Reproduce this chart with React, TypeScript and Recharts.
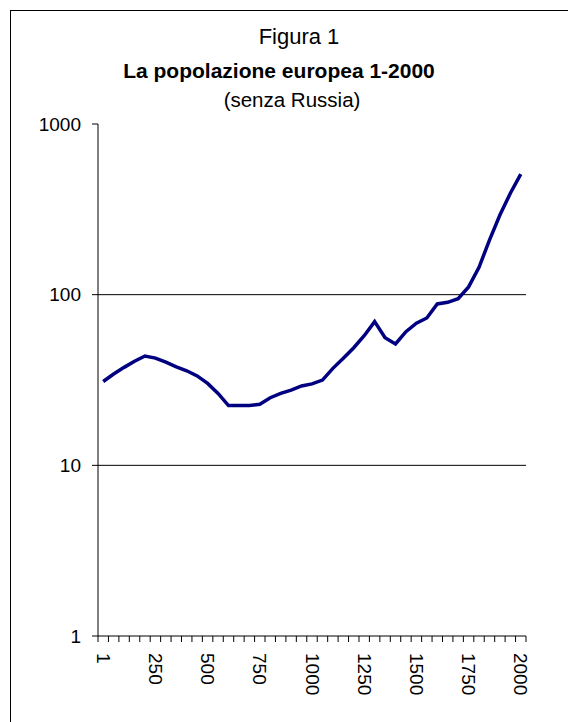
import React from "react";
import { LineChart, Line, XAxis, YAxis, ReferenceLine } from "recharts";

const years = [
  1, 50, 100, 150, 200, 250, 300, 350, 400, 450, 500, 550, 600, 650, 700, 750, 800, 850, 900, 950,
  1000, 1050, 1100, 1150, 1200, 1250, 1300, 1350, 1400, 1450, 1500, 1550, 1600, 1650, 1700, 1750,
  1800, 1850, 1900, 1950, 2000,
];
const population = [
  31, 34.3, 37.5, 40.7, 43.7, 42.5, 40.2, 37.8, 35.8, 33.4, 30.2, 26.4, 22.4, 22.4, 22.4, 22.8,
  24.9, 26.4, 27.6, 29.2, 30, 31.6, 37, 42.4, 48.9, 57.5, 69.5, 56, 51.4, 60.7, 68, 73, 88.2, 90.2,
  94.7, 111, 144.6, 209, 293, 393, 509,
];
const yTicks = [1, 10, 100, 1000];
const gridValues = [10, 100];
const labelEvery = 5;

const data = years.map((year, i) => ({ year, pop: population[i] }));

const FONT = "'Liberation Sans', Arial, sans-serif";
const W = 568;
const H = 722;
const PLOT_LEFT = 98;
const PLOT_RIGHT = 526;
const PLOT_TOP = 124;
const PLOT_BOTTOM = 636;
const step = (PLOT_RIGHT - PLOT_LEFT) / years.length;

function XTick(props: any) {
  const { x, y, payload, index } = props;
  const half = step / 2;
  const ly = y + 17;
  return (
    <g>
      <line x1={x - half} x2={x - half} y1={y} y2={y + 6} stroke="#000" />
      {index === years.length - 1 && (
        <line x1={x + half} x2={x + half} y1={y} y2={y + 6} stroke="#000" />
      )}
      {index % labelEvery === 0 && (
        <text
          x={x}
          y={ly}
          transform={`rotate(90 ${x} ${ly})`}
          dominantBaseline="central"
          textAnchor="start"
          fontSize={19}
          fontFamily={FONT}
          fill="#000"
        >
          {payload.value}
        </text>
      )}
    </g>
  );
}

export default function App() {
  return (
    <div style={{ position: "relative", width: W, height: H, background: "#fff", fontFamily: FONT }}>
      <style>{"body{margin:0;overflow:hidden}"}</style>
      <div
        style={{
          position: "absolute",
          left: 10,
          top: 10,
          width: W - 10,
          height: H - 10,
          borderTop: "1px solid #000",
          borderLeft: "1px solid #000",
          boxSizing: "border-box",
        }}
      />
      <svg width={W} height={120} style={{ position: "absolute", left: 0, top: 0 }}>
        <text x={299} y={44} textAnchor="middle" fontSize={22} fontFamily={FONT} fill="#000">
          Figura 1
        </text>
        <text x={279} y={78} textAnchor="middle" fontSize={21} fontWeight="bold" fontFamily={FONT} fill="#000">
          La popolazione europea 1-2000
        </text>
        <text x={292} y={107} textAnchor="middle" fontSize={20.5} fontFamily={FONT} fill="#000">
          (senza Russia)
        </text>
      </svg>
      <div style={{ position: "absolute", left: 0, top: 0 }}>
        <LineChart
          width={W}
          height={H}
          data={data}
          margin={{ top: PLOT_TOP, right: W - PLOT_RIGHT, left: 0, bottom: 6 }}
        >
          <XAxis
            dataKey="year"
            type="category"
            interval={0}
            padding={{ left: step / 2, right: step / 2 }}
            height={H - PLOT_BOTTOM - 6}
            axisLine={{ stroke: "#000" }}
            tickLine={false}
            tickSize={0}
            tickMargin={0}
            tick={<XTick />}
          />
          <XAxis
            xAxisId="top"
            orientation="top"
            dataKey="year"
            height={0}
            axisLine={{ stroke: "#999", strokeWidth: 2 }}
            tick={false}
            tickLine={false}
          />
          <YAxis
            type="number"
            scale="log"
            domain={[1, 1000]}
            ticks={yTicks}
            width={PLOT_LEFT}
            axisLine={{ stroke: "#000" }}
            tickLine={{ stroke: "#000" }}
            tickSize={6}
            tickMargin={11}
            tick={{ fill: "#000", fontSize: 19, fontFamily: FONT }}
            allowDataOverflow
          />
          <YAxis
            yAxisId="right"
            orientation="right"
            type="number"
            scale="log"
            domain={[1, 1000]}
            width={0}
            axisLine={{ stroke: "#999", strokeWidth: 2 }}
            tick={false}
            tickLine={false}
          />
          {gridValues.map((v) => (
            <ReferenceLine key={v} y={v} stroke="#000" strokeWidth={1} />
          ))}
          <Line
            dataKey="pop"
            type="linear"
            stroke="#000080"
            strokeWidth={3.5}
            dot={false}
            isAnimationActive={false}
          />
        </LineChart>
      </div>
    </div>
  );
}
